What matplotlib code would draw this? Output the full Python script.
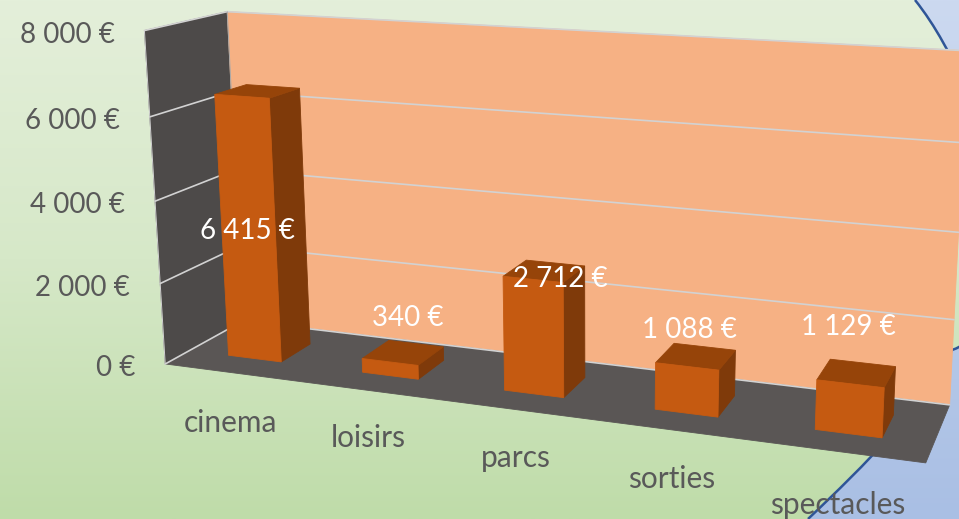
import numpy as np
import matplotlib
matplotlib.use('Agg')
import matplotlib.pyplot as plt
from matplotlib.patches import Polygon, PathPatch
from matplotlib.path import Path
from matplotlib.colors import LinearSegmentedColormap

plt.rcParams['font.family'] = ['Lato', 'DejaVu Sans']

categories = ['cinema', 'loisirs', 'parcs', 'sorties', 'spectacles']
values = [6415, 340, 2712, 1088, 1129]
value_labels = ['6 415 €', '340 €', '2 712 €', '1 088 €', '1 129 €']
ticks = [0, 2000, 4000, 6000, 8000]
tick_labels = ['0 €', '2 000 €', '4 000 €', '6 000 €', '8 000 €']

W, H = 959, 519
VMAX = 8000
GAP = 0.3       # space each side of a bar, in category units
Z0, Z1 = 0.3, 0.7  # bar depth

# camera calibration: (category pos, value, depth) -> where it sits on the picture
calib = [
    (0, 0, 0, 165, 363), (0, 8000, 0, 145, 32), (0, 8000, 1, 227, 12), (0, 0, 1, 245, 321),
    (5, 0, 1, 948, 404), (5, 0, 0, 925, 463), (5, 8000, 1, 968, 50),
    (0, 6000, 0, 150, 117), (0, 4000, 0, 155, 199), (0, 2000, 0, 160, 284),
    (0.3, 0, 0.3, 228, 355), (0.7, 0, 0.3, 281, 362), (0.7, 0, 0.7, 309, 344),
    (0.3, 6415, 0.3, 215, 95), (0.7, 6415, 0.3, 270, 98), (0.7, 6415, 0.7, 299, 88), (0.3, 6415, 0.7, 245, 84),
    (1.3, 0, 0.3, 362, 372), (1.7, 0, 0.3, 418, 379),
    (1.3, 340, 0.3, 362, 359), (1.7, 340, 0.3, 418, 366), (1.7, 340, 0.7, 443, 348), (1.3, 340, 0.7, 389, 341),
    (2.3, 0, 0.3, 505, 391), (2.7, 0, 0.3, 564, 397), (2.7, 0, 0.7, 585, 377),
    (3.3, 0, 0.3, 656, 409), (3.7, 0, 0.3, 719, 417), (3.7, 0, 0.7, 735, 395), (3.7, 1088, 0.7, 736, 350),
    (4.3, 0, 0.3, 815, 429), (4.7, 0, 0.3, 882, 438), (4.7, 0, 0.7, 893, 417),
    (4.3, 1129, 0.3, 817, 380), (4.7, 1129, 0.3, 884, 388), (4.7, 1129, 0.7, 896, 367), (4.3, 1129, 0.7, 831, 359),
]


def fit_camera(points):
    rows = []
    for x, v, z, px, py in points:
        p = [x / 5, v / VMAX, z, 1]
        u, w = px / 1000, py / 1000
        rows.append(p + [0, 0, 0, 0] + [-u * c for c in p])
        rows.append([0, 0, 0, 0] + p + [-w * c for c in p])
    return np.linalg.svd(np.array(rows))[2][-1].reshape(3, 4)


CAM = fit_camera(calib)


def project(x, v, z):
    u, w, s = CAM @ np.array([x / 5, v / VMAX, z, 1])
    return u / s * 1000, w / s * 1000


def face(ax, corners, color, zorder, edge=None, lw=0.6):
    pts = [project(*c) for c in corners]
    ax.add_patch(Polygon(pts, closed=True, facecolor=color, edgecolor=edge or color, lw=lw, zorder=zorder))


def line3d(ax, a, b, color='#d2d2d2', lw=1.2, zorder=3):
    pa, pb = project(*a), project(*b)
    ax.plot([pa[0], pb[0]], [pa[1], pb[1]], color=color, lw=lw, zorder=zorder, solid_capstyle='round')


fig = plt.figure(figsize=(W / 100, H / 100), dpi=100)
ax = fig.add_axes([0, 0, 1, 1])

# slide background
green = LinearSegmentedColormap.from_list('g', ['#e4efda', '#d6e8c8', '#bfdca9'])
blue = LinearSegmentedColormap.from_list('b', ['#ccd9f0', '#a9bfe4'])
grad = np.linspace(0, 1, 256).reshape(-1, 1)
ax.imshow(grad, cmap=green, extent=(0, W, H, 0), aspect='auto', zorder=0)

# blue area is clipped by a closed shape, the dark arc is stroked on its own
arc = [(915, 0), (995, 100), (1040, 320), (952, 350), (925, 405), (865, 465), (808, 519)]
arc_codes = [Path.MOVETO] + [Path.CURVE4] * 6
region = PathPatch(Path(arc + [(1000, 519), (1000, 0), (915, 0)],
                        arc_codes + [Path.LINETO, Path.LINETO, Path.CLOSEPOLY]),
                   facecolor='none', edgecolor='none', zorder=1)
ax.add_patch(region)
blue_im = ax.imshow(grad, cmap=blue, extent=(0, W + 50, H, 0), aspect='auto', zorder=0.5)
blue_im.set_clip_path(region)
ax.add_patch(PathPatch(Path(arc, arc_codes), facecolor='none', edgecolor='#2f5597', lw=1.8, zorder=1))

# walls and floor
face(ax, [(0, 0, 0), (0, VMAX, 0), (0, VMAX, 1), (0, 0, 1)], '#4d4a49', 2)
face(ax, [(0, 0, 1), (0, VMAX, 1), (5, VMAX, 1), (5, 0, 1)], '#f6b184', 2)
face(ax, [(0, 0, 0), (0, 0, 1), (5, 0, 1), (5, 0, 0)], '#5a5655', 2)

# gridlines go across the left wall and the back wall
for t in ticks:
    line3d(ax, (0, t, 0), (0, t, 1))
    line3d(ax, (0, t, 1), (5, t, 1))
line3d(ax, (0, 0, 0), (0, VMAX, 0), lw=0.7)
line3d(ax, (0, 0, 1), (0, VMAX, 1), lw=0.7, color='#a8a8a8')

# bars
for i, v in enumerate(values):
    x0, x1 = i + GAP, i + 1 - GAP
    face(ax, [(x1, 0, Z0), (x1, 0, Z1), (x1, v, Z1), (x1, v, Z0)], '#7f3a0a', 5)
    face(ax, [(x0, v, Z0), (x1, v, Z0), (x1, v, Z1), (x0, v, Z1)], '#964409', 5)
    face(ax, [(x0, 0, Z0), (x1, 0, Z0), (x1, v, Z0), (x0, v, Z0)], '#c55a11', 6)

FS = 20
TEXT = '#595959'
for t, lab in zip(ticks, tick_labels):
    px, py = project(0, t, 0)
    ax.text(px - 30, py + 4, lab, ha='right', va='center', fontsize=FS, color=TEXT, zorder=8)

cat_dy = [50, 47, 48, 49, 53]
for i, lab in enumerate(categories):
    px, py = project(i + 0.5, 0, 0)
    ax.text(px - 1, py + cat_dy[i], lab, ha='center', va='center', fontsize=21.5, color=TEXT, zorder=8)

# data labels sit at fixed offsets from the bar top centre
label_dx = [-10, 5, 16, -7, -8]
label_dy = [140, -35, 8, -26, -46]
for i, lab in enumerate(value_labels):
    px, py = project(i + 0.5, values[i], 0.5)
    ax.text(px + label_dx[i], py + label_dy[i], lab, ha='center', va='center',
            fontsize=FS, color='white', zorder=9)

ax.set_xlim(0, W)
ax.set_ylim(H, 0)
ax.axis('off')
fig.savefig('out.png', dpi=100)
